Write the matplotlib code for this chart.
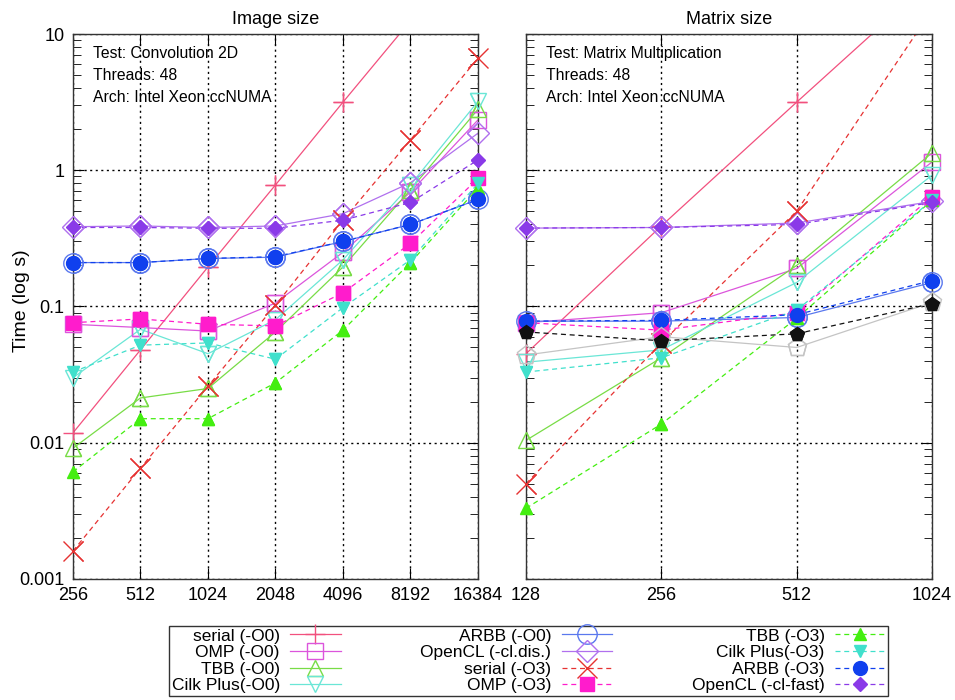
import numpy as np
import matplotlib
matplotlib.use("Agg")
import matplotlib.pyplot as plt
from matplotlib.ticker import LogLocator, NullFormatter, NullLocator

plt.rcParams['font.family'] = ['Liberation Sans', 'DejaVu Sans']

# data ---------------------------------------------------------------
img_sizes = [256, 512, 1024, 2048, 4096, 8192, 16384]
mat_sizes = [128, 256, 512, 1024]

labels = ["serial (-O0)", "OMP (-O0)", "TBB (-O0)", "Cilk Plus(-O0)",
          "ARBB (-O0)", "OpenCL (-cl.dis.)", "serial (-O3)", "OMP (-O3)",
          "TBB (-O3)", "Cilk Plus(-O3)", "ARBB (-O3)", "OpenCL (-cl-fast)"]

# convolution 2D (image size)
conv_serial_o0 = [0.0118, 0.048, 0.195, 0.78, 3.16, 12.5, 50]
conv_omp_o0 = [0.074, 0.070, 0.066, 0.106, 0.25, 0.69, 2.34]
conv_tbb_o0 = [0.0091, 0.0213, 0.025, 0.065, 0.195, 0.72, 2.8]
conv_cilk_o0 = [0.030, 0.068, 0.045, 0.08, 0.22, 0.78, 3.2]
conv_arbb_o0 = [0.21, 0.21, 0.225, 0.23, 0.30, 0.40, 0.61]
conv_ocl_o0 = [0.385, 0.39, 0.38, 0.39, 0.48, 0.81, 1.87]
conv_serial_o3 = [0.0016, 0.0065, 0.026, 0.102, 0.43, 1.67, 6.65]
conv_omp_o3 = [0.076, 0.081, 0.074, 0.072, 0.126, 0.29, 0.87]
conv_tbb_o3 = [0.0061, 0.015, 0.015, 0.0275, 0.067, 0.21, 0.74]
conv_cilk_o3 = [0.033, 0.052, 0.054, 0.041, 0.098, 0.22, 0.80]
conv_arbb_o3 = [0.21, 0.21, 0.225, 0.232, 0.30, 0.40, 0.61]
conv_ocl_o3 = [0.38, 0.38, 0.375, 0.375, 0.43, 0.58, 1.19]

# matrix multiplication (matrix size)
mm_serial_o0 = [0.045, 0.39, 3.16, 25]
mm_omp_o0 = [0.076, 0.09, 0.19, 1.15]
mm_tbb_o0 = [0.0104, 0.042, 0.20, 1.34]
mm_cilk_o0 = [0.039, 0.048, 0.15, 0.92]
mm_arbb_o0 = [0.078, 0.078, 0.083, 0.15]
mm_ocl_o0 = [0.376, 0.38, 0.41, 0.59]
mm_serial_o3 = [0.005, 0.054, 0.5, 15]
mm_omp_o3 = [0.076, 0.067, 0.09, 0.64]
mm_tbb_o3 = [0.0033, 0.0137, 0.082, 0.60]
mm_cilk_o3 = [0.033, 0.042, 0.094, 0.60]
mm_arbb_o3 = [0.078, 0.079, 0.087, 0.155]
mm_ocl_o3 = [0.376, 0.38, 0.40, 0.58]
mm_grey = [0.044, 0.060, 0.050, 0.107]
mm_black = [0.065, 0.056, 0.063, 0.105]

conv_all = [conv_serial_o0, conv_omp_o0, conv_tbb_o0, conv_cilk_o0,
            conv_arbb_o0, conv_ocl_o0, conv_serial_o3, conv_omp_o3,
            conv_tbb_o3, conv_cilk_o3, conv_arbb_o3, conv_ocl_o3]
mm_all = [mm_serial_o0, mm_omp_o0, mm_tbb_o0, mm_cilk_o0,
          mm_arbb_o0, mm_ocl_o0, mm_serial_o3, mm_omp_o3,
          mm_tbb_o3, mm_cilk_o3, mm_arbb_o3, mm_ocl_o3]

# styles: colour, marker, size, filled, linestyle
styles = [
    ("#f2507e", "+", 15, False, "-"),
    ("#dc55dc", "s", 12, False, "-"),
    ("#78dc46", "^", 12, False, "-"),
    ("#6ae6d6", "v", 12, False, "-"),
    ("#5a78ee", "o", 14, False, "-"),
    ("#b070ee", "D", 11, False, "-"),
    ("#e63232", "x", 15, False, (0, (4, 3))),
    ("#ff1ccc", "s", 10, True, (0, (4, 3))),
    ("#44ee11", "^", 8, True, (0, (4, 3))),
    ("#40e0cc", "v", 8, True, (0, (4, 3))),
    ("#1040ee", "o", 10, True, (0, (4, 3))),
    ("#8a3ae8", "D", 7, True, (0, (4, 3))),
]

ymin, ymax = 0.001, 10


def kresli(ax, x, y, st, label=None):
    c, m, ms, fill, ls = st
    y = np.array(y)
    x = np.array(x)
    mfc = c if fill else "none"
    mew = 1.0
    ax.plot(x, y, color=c, lw=0.9, ls=ls, label=label, marker=m, ms=ms,
            mfc=mfc, mec=c, mew=mew, clip_on=True)
    ok = (y >= ymin) & (y <= ymax)
    ax.plot(x[ok], y[ok], ls="none", marker=m, ms=ms, mfc=mfc, mec=c,
            mew=mew, clip_on=False, zorder=3)


def osy(ax, sizes, title, text):
    ax.set_xscale("log", base=2)
    ax.set_yscale("log")
    ax.set_xlim(sizes[0], sizes[-1])
    ax.set_ylim(ymin, ymax)
    ax.set_xticks(sizes)
    ax.set_xticklabels([str(s) for s in sizes])
    ax.xaxis.set_minor_locator(NullLocator())
    ax.set_yticks([0.001, 0.01, 0.1, 1, 10])
    ax.yaxis.set_minor_locator(LogLocator(base=10, subs=np.arange(2, 10)))
    ax.yaxis.set_minor_formatter(NullFormatter())
    ax.tick_params(which="both", direction="in", top=True, right=True,
                   labelsize=13, pad=6)
    ax.tick_params(which="major", length=8)
    ax.tick_params(which="minor", length=6)
    ax.grid(True, which="major", color="black", ls=(0, (1.5, 2.5)), lw=1.0)
    ax.set_title(title, fontsize=13, pad=7)
    ax.text(0.05, 0.978, text, transform=ax.transAxes, fontsize=11.3,
            va="top", ha="left", linespacing=1.6)
    for s in ax.spines.values():
        s.set_color("#333333")
        s.set_linewidth(1.0)


fig = plt.figure(figsize=(9.55, 7.0), dpi=100)
ax1 = fig.add_axes([0.0764, 0.173, 0.4241, 0.7784])
ax2 = fig.add_axes([0.5508, 0.173, 0.4251, 0.7784])

for y, st, lab in zip(conv_all, styles, labels):
    kresli(ax1, img_sizes, y, st, lab)
for y, st in zip(mm_all, styles):
    kresli(ax2, mat_sizes, y, st)
kresli(ax2, mat_sizes, mm_grey, ("#c4c4c4", "p", 14, False, "-"))
kresli(ax2, mat_sizes, mm_black, ("#111111", "p", 10, True, (0, (4, 3))))

osy(ax1, img_sizes, "Image size",
    "Test: Convolution 2D\nThreads: 48\nArch: Intel Xeon ccNUMA")
osy(ax2, mat_sizes, "Matrix size",
    "Test: Matrix Multiplication\nThreads: 48\nArch: Intel Xeon ccNUMA")
ax1.set_yticklabels(["0.001", "0.01", "0.1", "1", "10"])
ax2.set_yticklabels([])
fig.text(21 / 955, 0.571, "Time (log s)", rotation=90, fontsize=14,
         ha="center", va="center")

h, l = ax1.get_legend_handles_labels()
leg = fig.legend(h, l, loc="center", bbox_to_anchor=(0.5534, 0.056), ncol=3,
                 markerfirst=False, fontsize=12.5, frameon=True, fancybox=False,
                 edgecolor="black", handlelength=2.9, handletextpad=0.6,
                 columnspacing=4.6, labelspacing=0.08, borderpad=0.15,
                 borderaxespad=0)
leg.get_frame().set_linewidth(1.0)

fig.savefig("out.png", dpi=100)
